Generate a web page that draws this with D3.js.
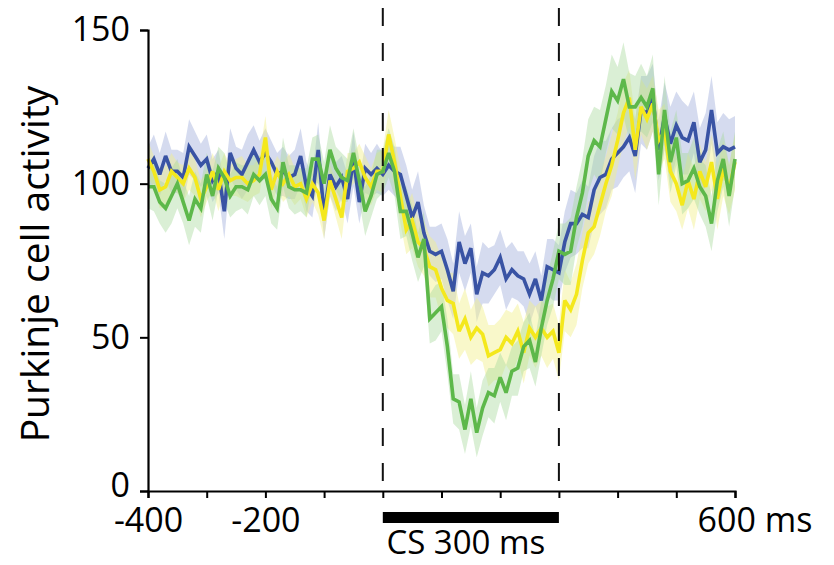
<!DOCTYPE html>
<html>
<head>
<meta charset="utf-8">
<script src="https://cdn.jsdelivr.net/npm/d3@7"></script>
<style>
  html, body { margin: 0; padding: 0; background: #fff; }
  svg { display: block; font-family: "Open Sans", "Noto Sans", sans-serif; }
</style>
</head>
<body>
<svg id="chart" width="834" height="565"></svg>
<script>
// ---- data (10 ms bins from -400 to 600 ms) ----
const timeBins = d3.range(-400, 601, 10);

const blueValues = [
  105,108,103,109,104,104,102,112,109,106,
  108,101,104,91,110,105,103,107,111,107,
  110,107,103,104,102,103,109,99,96,111,
  90,103,99,102,95,108,94,105,103,105,
  103,106,104,103,96,89,94,84,78,77,
  78,72,65,81,74,79,64,71,70,72,
  76,69,72,70,69,64,69,62,73,72,
  71,81,87,87,90,89,98,102,103,108,
  110,112,115,109,124,123,128,111,122,113,
  119,115,114,120,107,111,124,110,112,111,
  112
];
const blueErr = [
  7,8,7,8,7,7,8,9,8,7,
  8,7,7,9,8,7,8,9,8,7,
  8,7,7,8,7,8,9,8,7,9,
  8,7,8,7,8,9,7,8,7,8,
  7,8,8,9,10,9,10,9,8,9,
  9,10,9,10,9,8,9,10,9,8,
  9,10,9,8,9,10,9,8,9,10,
  9,10,11,10,11,10,11,12,11,10,
  11,10,11,12,11,12,11,10,11,12,
  11,12,11,10,11,12,11,10,11,10,
  10
];

const yellowValues = [
  108,104,98,99,104,102,100,105,102,95,
  99,104,98,104,101,102,102,100,101,103,
  115,98,104,100,103,99,100,95,100,97,
  88,101,95,89,104,105,107,102,99,104,
  104,116,107,96,85,88,81,79,73,72,
  66,62,61,52,56,50,53,51,44,45,
  46,50,48,52,45,53,50,53,50,52,
  45,62,59,64,75,84,86,93,100,106,
  114,123,128,111,125,121,126,114,117,104,
  100,93,101,95,104,99,107,95,105,98,
  107
];
const yellowErr = [
  6,5,6,7,6,5,6,7,6,6,
  5,6,7,6,5,6,7,6,5,6,
  7,6,5,6,7,6,5,6,6,7,
  6,5,6,7,6,5,6,7,6,6,
  7,8,8,9,8,9,8,9,10,9,
  10,9,10,9,10,9,10,9,10,9,
  10,9,10,9,10,9,10,9,10,9,
  9,10,9,10,9,10,9,10,9,10,
  9,10,9,10,9,10,9,10,9,10,
  9,8,9,10,9,8,9,10,9,8,
  9
];

const greenValues = [
  99,99,94,92,96,100,94,88,95,92,
  103,96,105,102,96,99,99,98,103,101,
  103,95,92,107,99,98,98,97,108,108,
  100,111,105,102,101,110,101,91,96,103,
  104,110,104,91,91,84,76,82,56,58,
  60,47,30,29,20,30,19,27,32,31,
  37,32,39,40,47,49,42,53,62,69,
  78,77,78,89,97,109,114,112,121,130,
  127,134,125,125,128,125,131,103,124,107,
  115,100,101,105,99,96,87,101,108,96,
  108
];
const greenErr = [
  7,8,7,8,9,8,7,8,9,8,
  7,8,7,8,7,8,7,8,7,8,
  7,8,7,8,7,8,7,8,7,8,
  7,8,7,8,7,8,7,8,7,8,
  7,8,8,9,8,9,8,9,8,9,
  8,9,8,9,8,9,8,9,8,9,
  8,9,8,9,8,9,8,9,8,9,
  9,10,11,10,11,12,11,12,11,12,
  11,12,11,10,11,10,11,10,11,10,
  9,10,9,10,9,10,9,10,9,10,
  9
];

const xTicks = [-400,-300,-200,-100,0,100,200,300,400,500,600];
const xTickLabels = ["-400","","-200","","","","","","","","600 ms"];
const yTicks = [0,50,100,150];
const yLabel = "Purkinje cell activity";
const csStart = 0, csEnd = 300;
const csLabel = "CS 300 ms";

const series = [
  {name:"blue",   values: blueValues,   err: blueErr,   line:"#3953a4", band:"#9aa9d8", bandOpacity:0.42},
  {name:"yellow", values: yellowValues, err: yellowErr, line:"#f4e81c", band:"#f1f08a", bandOpacity:0.45},
  {name:"green",  values: greenValues,  err: greenErr,  line:"#5db84a", band:"#a6d99a", bandOpacity:0.42}
];

// ---- layout ----
const svg = d3.select("#chart");
const x = d3.scaleLinear().domain([-400, 600]).range([148, 735]);
const y = d3.scaleLinear().domain([0, 150]).range([491, 30]);

// bands
series.forEach(s => {
  const area = d3.area()
    .x((d, i) => x(timeBins[i]))
    .y0((d, i) => y(s.values[i] - s.err[i]))
    .y1((d, i) => y(s.values[i] + s.err[i]));
  svg.append("path")
    .datum(s.values)
    .attr("d", area)
    .attr("fill", s.band)
    .attr("fill-opacity", s.bandOpacity)
    .attr("stroke", "none");
});

// lines
series.forEach(s => {
  const line = d3.line()
    .x((d, i) => x(timeBins[i]))
    .y(d => y(d));
  svg.append("path")
    .datum(s.values)
    .attr("d", line)
    .attr("fill", "none")
    .attr("stroke", s.line)
    .attr("stroke-width", 3.6)
    .attr("stroke-linejoin", "miter")
    .attr("stroke-miterlimit", 3);
});

// dashed CS markers
[csStart, csEnd].forEach(t => {
  svg.append("line")
    .attr("x1", x(t)).attr("x2", x(t))
    .attr("y1", 8).attr("y2", 491)
    .attr("stroke", "#111")
    .attr("stroke-width", 2)
    .attr("stroke-dasharray", "18,17");
});

// x axis
const xAxis = svg.append("g")
  .attr("transform", "translate(0,491)")
  .call(d3.axisBottom(x).tickValues(xTicks).tickSize(7).tickPadding(10)
    .tickFormat((d, i) => xTickLabels[i]));
xAxis.select(".domain").attr("stroke", "#000").attr("stroke-width", 2.2);
xAxis.selectAll(".tick line").attr("stroke", "#000").attr("stroke-width", 2);
xAxis.selectAll(".tick text")
  .attr("font-size", 34)
  .attr("fill", "#000")
  .attr("font-family", "Open Sans, sans-serif");
xAxis.selectAll(".tick text").filter((d) => d === 600)
  .attr("text-anchor", "start")
  .attr("dx", -38);

// y axis
const yAxis = svg.append("g")
  .attr("transform", "translate(148,0)")
  .call(d3.axisLeft(y).tickValues(yTicks).tickSize(8).tickPadding(10));
yAxis.select(".domain").attr("stroke", "#000").attr("stroke-width", 2.2);
yAxis.selectAll(".tick line").attr("stroke", "#000").attr("stroke-width", 2);
yAxis.selectAll(".tick text")
  .attr("font-size", 34)
  .attr("fill", "#000")
  .attr("font-family", "Open Sans, sans-serif");
yAxis.selectAll(".tick text").filter((d) => d === 0)
  .attr("dy", "0.15em");

// y label
svg.append("text")
  .attr("transform", "translate(49,264) rotate(-90)")
  .attr("text-anchor", "middle")
  .attr("font-size", 39)
  .attr("fill", "#000")
  .text(yLabel);

// CS bar
svg.append("rect")
  .attr("x", x(csStart))
  .attr("y", 512)
  .attr("width", x(csEnd) - x(csStart))
  .attr("height", 11)
  .attr("fill", "#000");
svg.append("text")
  .attr("x", (x(csStart) + x(csEnd)) / 2 - 5)
  .attr("y", 554)
  .attr("text-anchor", "middle")
  .attr("font-size", 33)
  .attr("fill", "#000")
  .text(csLabel);
</script>
</body>
</html>
